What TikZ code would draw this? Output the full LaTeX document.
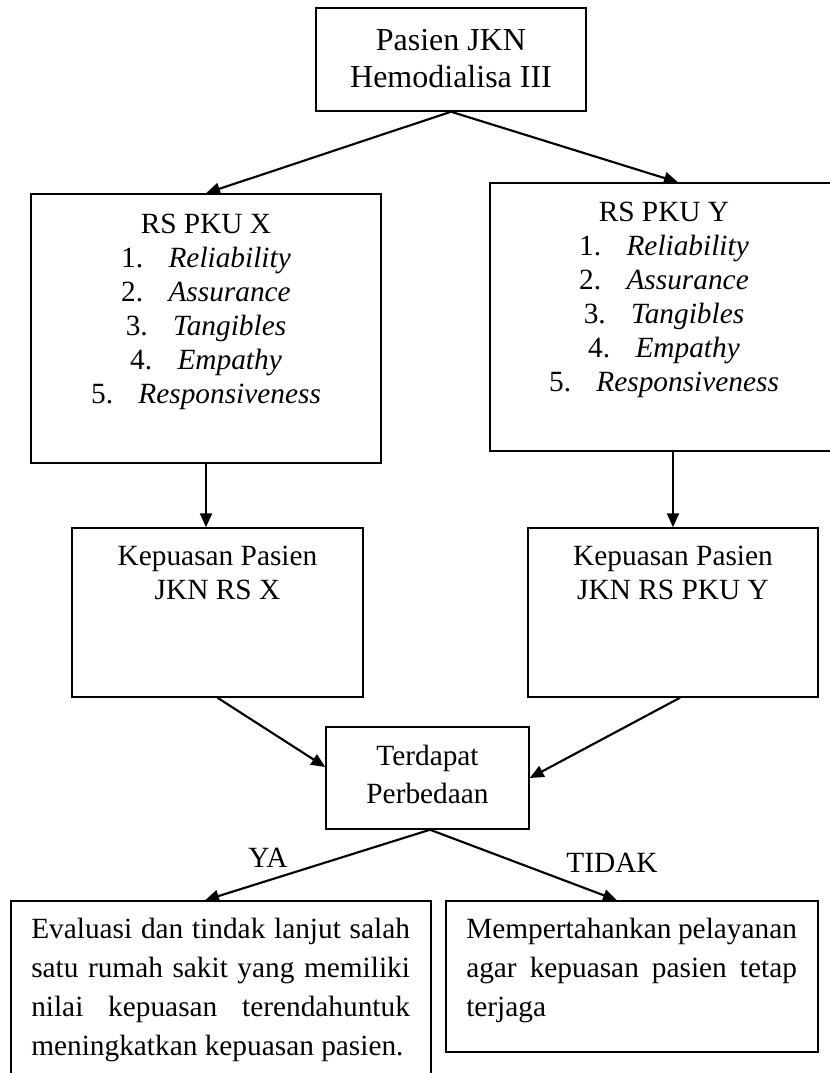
\documentclass[tikz,border=0pt]{standalone}
\usepackage{fontspec}
\setmainfont{Liberation Serif}
\usetikzlibrary{arrows.meta,calc}
\newcommand{\fs}{\rule{0pt}{18pt}}
\newcommand{\gp}{\hspace{19pt}}
\begin{document}
\begin{tikzpicture}[x=0.75pt,y=-0.75pt,
  box/.style={draw, line width=1.1pt, inner sep=0pt},
  arr/.style={line width=1.6pt, -{Triangle[length=10.5pt,width=9pt]}},
  txt/.style={inner sep=0pt, align=center, font=\fontsize{22}{25.5}\selectfont},
  lbl/.style={inner sep=0pt, font=\fontsize{22}{25.5}\selectfont},
  par/.style={inner sep=0pt, align=justify, anchor=north west, font=\fontsize{22}{29.25}\selectfont},
  ]
\useasboundingbox (0,0) rectangle (830,1073);
\clip (0,0) rectangle (830,1073);
% boxes
\node[box, minimum width=270*0.75pt, minimum height=103*0.75pt] (top) at (451,59.5) {};
\node[box, minimum width=350*0.75pt, minimum height=269*0.75pt] (bx) at (206,328.5) {};
\node[box, minimum width=348*0.75pt, minimum height=268*0.75pt] (by) at (664,317) {};
\node[box, minimum width=291*0.75pt, minimum height=169*0.75pt] (kx) at (217.5,612.5) {};
\node[box, minimum width=290*0.75pt, minimum height=169*0.75pt] (ky) at (673,612.5) {};
\node[box, minimum width=203*0.75pt, minimum height=102*0.75pt] (td) at (427.5,778) {};
\node[box, minimum width=420*0.75pt, minimum height=200*0.75pt] (ev) at (221,1001) {};
\node[box, minimum width=372*0.75pt, minimum height=151*0.75pt] (mp) at (632,976.5) {};
% texts
\node[txt, anchor=north, font=\fontsize{24}{27.75}\selectfont] (ttop) at (451,26) {\fs Pasien JKN\\Hemodialisa III};
\node[txt, anchor=north] (tbx) at (206,209) {\fs RS PKU X\\
1.\gp\textit{Reliability}\\
2.\gp\textit{Assurance}\\
3.\gp\textit{Tangibles}\\
4.\gp\textit{Empathy}\\
5.\gp\textit{Responsiveness}};
\node[txt, anchor=north] (tby) at (664,197) {\fs RS PKU Y\\
1.\gp\textit{Reliability}\\
2.\gp\textit{Assurance}\\
3.\gp\textit{Tangibles}\\
4.\gp\textit{Empathy}\\
5.\gp\textit{Responsiveness}};
\node[txt, anchor=north] (tkx) at (217.5,541) {\fs Kepuasan Pasien\\JKN RS X};
\node[txt, anchor=north] (tky) at (673,541) {\fs Kepuasan Pasien\\JKN RS PKU Y};
\node[txt, anchor=north, font=\fontsize{22}{28.5}\selectfont] (ttd) at (427.5,741) {\fs Terdapat\\Perbedaan};
\node[par, text width=284pt] (tev) at (31,914) {\fs Evaluasi dan tindak lanjut salah\linebreak satu rumah sakit yang memiliki\linebreak nilai kepuasan terendahuntuk\linebreak meningkatkan kepuasan pasien.};
\node[par, text width=248pt] (tmp) at (466,914) {\fs Mempertahankan pelayanan\linebreak agar kepuasan pasien tetap\linebreak terjaga};
% connectors
\draw[arr] (top.south) -- (bx.north);
\draw[arr] (top.south) -- ($(by.north)+(14,0)$);
\draw[arr] (bx.south) -- (bx.south |- kx.north);
\draw[arr] (ky.north |- by.south) -- (ky.north);
\draw[arr] (kx.south) -- ($(td.west)+(0,-11)$);
\draw[arr] ($(ky.south)+(7,0)$) -- (td.east);
\draw[arr] ($(td.south)+(2.5,0)$) -- ($(ev.north)+(-16,0)$);
\draw[arr] ($(td.south)+(2.5,0)$) -- ($(mp.north)+(-15,0)$);
\node[lbl, anchor=base] (ya) at (268,867) {YA};
\node[lbl, anchor=base] (tidak) at (612,872) {TIDAK};
\end{tikzpicture}
\end{document}
